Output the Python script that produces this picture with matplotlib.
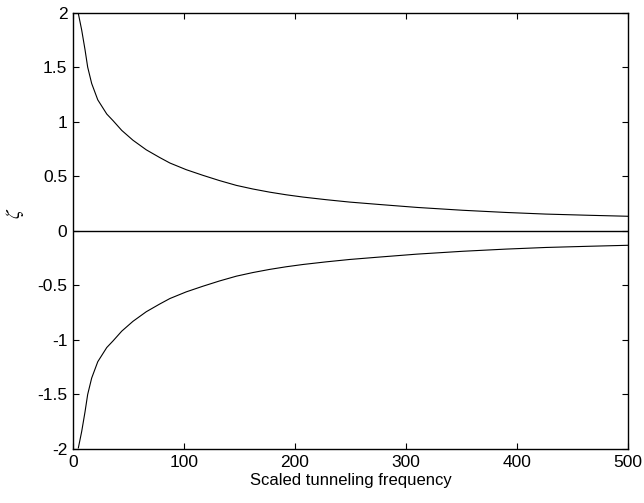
import matplotlib
matplotlib.use("Agg")
import matplotlib.pyplot as plt

# (upper branch; lower branch is its mirror)
freq = [4.8, 7.8, 10.8, 13.2, 16.8, 22.3, 30.4, 36.0, 43.9, 54.0, 66.0, 78.0,
        87.3, 102.0, 117.1, 132.0, 147.2, 162.0, 177.2, 192.0, 207.2, 228.0,
        249.3, 276.0, 310.0, 351.0, 390.0, 426.0, 465.0, 500.0]
zeta_upper = [1.99, 1.84, 1.66, 1.50, 1.35, 1.20, 1.07, 1.01, 0.92, 0.83, 0.742,
              0.672, 0.621, 0.56, 0.508, 0.46, 0.416, 0.383, 0.354, 0.33, 0.309,
              0.285, 0.263, 0.241, 0.214, 0.188, 0.168, 0.153, 0.142, 0.133]
zeta_lower = [-v for v in zeta_upper]

xticks = [0, 100, 200, 300, 400, 500]
yticks = [-2, -1.5, -1, -0.5, 0, 0.5, 1, 1.5, 2]
ytick_labels = ["-2", "-1.5", "-1", "-0.5", "0", "0.5", "1", "1.5", "2"]

plt.rcParams['font.family'] = ['Liberation Sans', 'DejaVu Sans']
plt.rcParams['mathtext.fontset'] = 'stix'

fig = plt.figure(figsize=(6.44, 5.03), dpi=100)
ax = fig.add_axes([0.1134, 0.1074, 0.975 - 0.1134, 0.975 - 0.1074])

ax.plot(freq, zeta_upper, color='black', lw=0.8, solid_joinstyle='round')
ax.plot(freq, zeta_lower, color='black', lw=0.8, solid_joinstyle='round')
ax.axhline(0, color='black', lw=1.0)

ax.set_xlim(0, 500)
ax.set_ylim(-2, 2)
ax.set_xticks(xticks)
ax.set_xticklabels([str(t) for t in xticks])
ax.set_yticks(yticks)
ax.set_yticklabels(ytick_labels)
ax.tick_params(direction='in', top=True, right=True, length=4, width=0.8,
               labelsize=12.5, pad=4)
for s in ax.spines.values():
    s.set_linewidth(1.0)

ax.set_xlabel('Scaled tunneling frequency', fontsize=12)
ax.xaxis.set_label_coords(0.5, -0.056)
ax.set_ylabel(r'$\zeta$', fontsize=14)
ax.yaxis.set_label_coords(-0.085, 0.54)

fig.savefig('out.png', dpi=100)
